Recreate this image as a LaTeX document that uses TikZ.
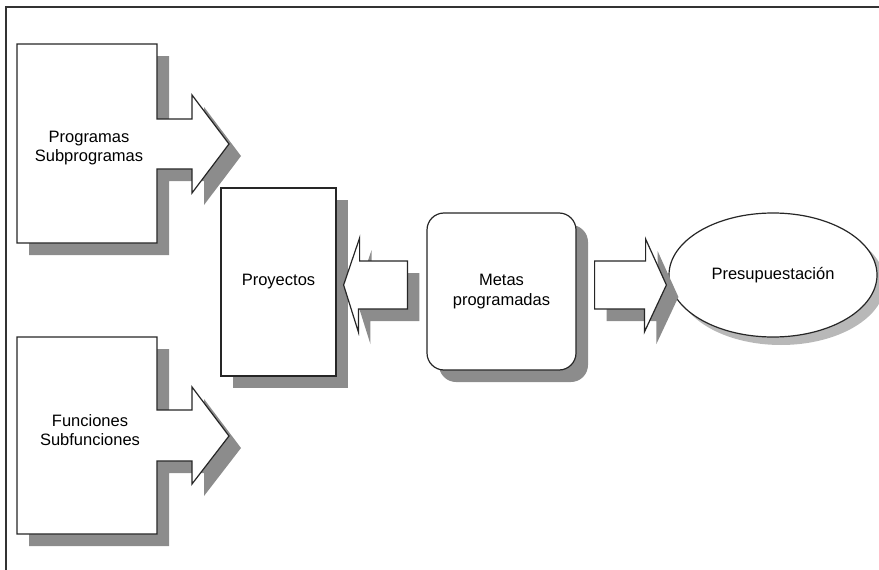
\documentclass[tikz,border=0pt]{standalone}
\usepackage{fontspec}
\setmainfont{Liberation Sans}
\usetikzlibrary{shadows,shapes.geometric,calc}

\begin{document}
\begin{tikzpicture}[%%
  x=1pt,y=-1pt,
  frameStyle/.style={draw=black!80,line width=2pt},
  outlineStyle/.style={draw=black!85,line width=1.2pt,fill=white},
  shadowStyle/.style={drop shadow={shadow xshift=12pt,shadow yshift=-12pt,fill=black!45,opacity=1}},
  softShadowStyle/.style={drop shadow={shadow xshift=8pt,shadow yshift=-8pt,fill=black!28,opacity=1}},
  labelStyle/.style={align=center,font=\fontsize{16.5}{19.5}\selectfont}
]
%%
\useasboundingbox (0,0) rectangle (879,570);
%% The frame, cut at the right and bottom.
\draw[frameStyle] (6,570) -- (6,7) -- (879,7);
%%
%% The two boxes with their arrows.
\path[outlineStyle,shadowStyle] (17,44) -- (157,44) -- (157,119) -- (192,119) -- (192,95)
  -- (229,144) -- (192,193) -- (192,169) -- (157,169) -- (157,243) -- (17,243) -- cycle;
\path[outlineStyle,shadowStyle] (17,337) -- (157,337) -- (157,410) -- (192,410) -- (192,387)
  -- (229,436) -- (192,484) -- (192,461) -- (157,461) -- (157,534) -- (17,534) -- cycle;
\node[labelStyle] (prog) at (89,148) {Programas\\Subprogramas};
\node[labelStyle] (func) at (90,430) {Funciones\\Subfunciones};
%%
%% Projects, goals and budget.
\node[outlineStyle,shadowStyle,labelStyle,minimum width=115pt,minimum height=188pt,inner sep=0pt]
  (proy) at (278.5,282) {Proyectos};
\node[outlineStyle,shadowStyle,labelStyle,rounded corners=17pt,minimum width=149pt,
  minimum height=157pt,inner sep=0pt] (metas) at (501.5,291.5) {Metas\\programadas};
\node[outlineStyle,softShadowStyle,labelStyle,ellipse,minimum width=208pt,minimum height=124pt,
  inner sep=0pt] (presup) at (773,275) {Presupuestación};
%%
%% Block arrows between them.
\coordinate (leftTip) at ($(proy.east)+(7,3)$);
\coordinate (leftTail) at ($(metas.west)+(-19,-6.5)$);
\path[outlineStyle,shadowStyle] (leftTip) -- ++(16,-47) -- ++(0,23) -- ([yshift=24pt]leftTail)
  -- ([yshift=-24pt]leftTail) -- ++(-49,0) -- ++(0,23) -- cycle;
\coordinate (rightTail) at ($(metas.east)+(18,-6.5)$);
\coordinate (rightTip) at ($(presup.west)+(-2,10)$);
\path[outlineStyle,shadowStyle] ([yshift=24pt]rightTail) -- ++(51,0) -- ++(0,-22) -- (rightTip)
  -- ++(-22,47) -- ++(0,-23) -- ([yshift=-24pt]rightTail) -- cycle;
\end{tikzpicture}
\end{document}
